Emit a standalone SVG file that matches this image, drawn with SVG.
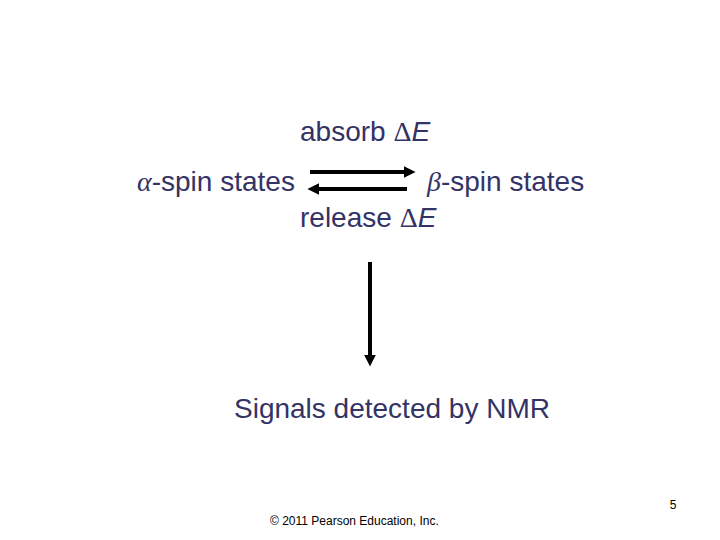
<svg xmlns="http://www.w3.org/2000/svg" width="720" height="540" viewBox="0 0 720 540">
<style>
.t{font-family:"Liberation Sans",Arial,sans-serif;font-size:28px;fill:#333366}
.g{font-family:"Liberation Serif","Times New Roman",serif;font-style:italic}
.d{font-family:"Liberation Serif","Times New Roman",serif}
.i{font-style:italic}
.f{font-family:"Liberation Sans",Arial,sans-serif;font-size:12px;fill:#000}
.c{stroke:#000;stroke-width:4;fill:none}
</style>
<defs>
<marker id="ah" viewBox="0 0 10 10" refX="2" refY="5" markerWidth="3" markerHeight="3" orient="auto" markerUnits="strokeWidth">
<path d="M0,0 L10,5 L0,10 Z" fill="#000"/>
</marker>
</defs>
<rect width="720" height="540" fill="#fff"/>
<g id="absorb"><text class="t" x="300" y="141">absorb <tspan class="d">Δ</tspan><tspan class="i">E</tspan></text></g>
<g id="alpha"><text class="t" x="137" y="191"><tspan class="g">α</tspan>-spin states</text></g>
<g id="beta"><text class="t" x="427" y="191"><tspan class="g">β</tspan>-spin states</text></g>
<g id="release"><text class="t" x="300" y="227">release <tspan class="d">Δ</tspan><tspan class="i">E</tspan></text></g>
<g id="signals"><text class="t" x="234" y="418">Signals detected by NMR</text></g>
<g id="connectors">
<line class="c" x1="310" y1="172" x2="406" y2="172" marker-end="url(#ah)"/>
<line class="c" x1="407" y1="189" x2="317" y2="189" marker-end="url(#ah)"/>
<line class="c" x1="370" y1="262" x2="370" y2="357" marker-end="url(#ah)"/>
</g>
<g id="footer">
<text class="f" x="673" y="509" text-anchor="middle">5</text>
<text class="f" x="270" y="525">© 2011 Pearson Education, Inc.</text>
</g>
</svg>
